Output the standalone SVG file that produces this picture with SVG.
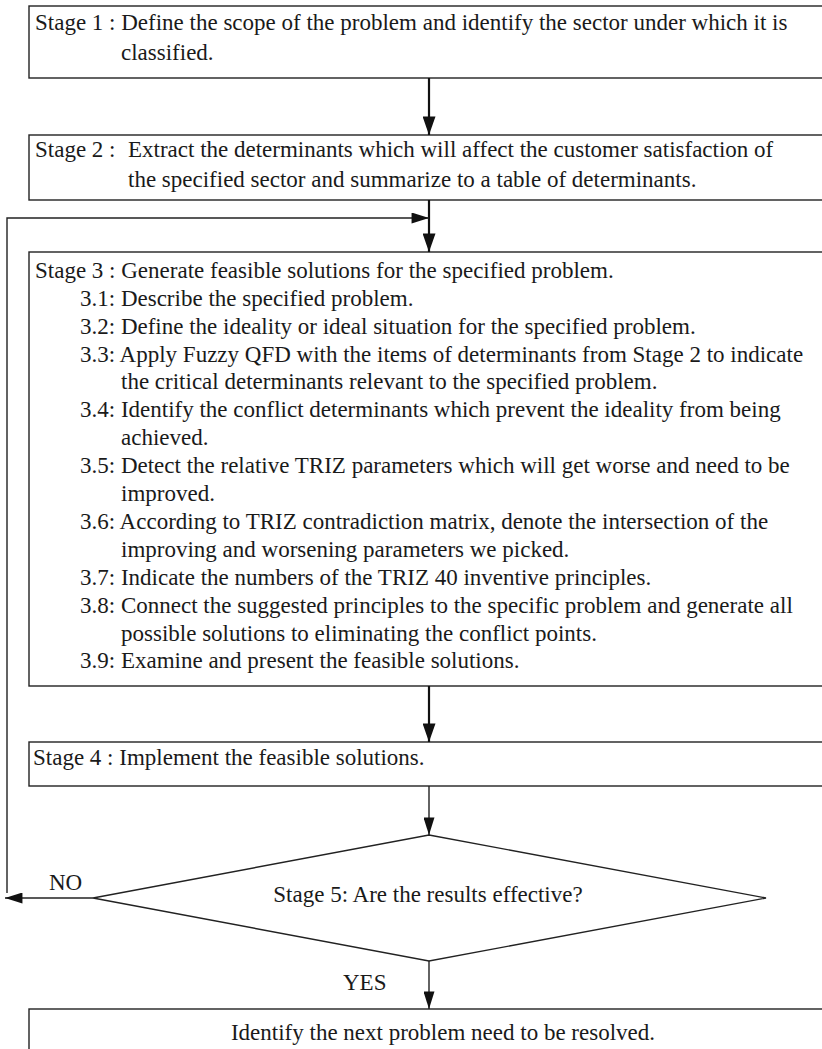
<svg xmlns="http://www.w3.org/2000/svg" width="822" height="1049" viewBox="0 0 822 1049">
<style>
.box{fill:#fff;stroke:#222;stroke-width:1.4}
.t{font-family:"Liberation Serif","Times New Roman",serif;font-size:23px;fill:#1a1a1a}
.c{text-anchor:middle}
.thick{stroke:#111;stroke-width:2.2;fill:none}
.thin{stroke:#222;stroke-width:1.4;fill:none}
</style>
<defs>
<marker id="ah" markerUnits="userSpaceOnUse" viewBox="0 0 20 14" refX="20" refY="7" markerWidth="20" markerHeight="13" orient="auto"><path d="M0,0 L20,7 L0,14 Z" fill="#111"/></marker>
<marker id="ahs" markerUnits="userSpaceOnUse" viewBox="0 0 19 12" refX="19" refY="6" markerWidth="19" markerHeight="11" orient="auto"><path d="M0,0 L19,6 L0,12 Z" fill="#111"/></marker>
</defs>
<rect width="822" height="1049" fill="#fff"/>
<g id="stage1">
<rect class="box" x="29" y="6" width="820" height="72"/>
<text class="t" x="35" y="30">Stage 1 : Define the scope of the problem and identify the sector under which it is</text>
<text class="t" x="121" y="60">classified.</text>
</g>
<g id="stage2">
<rect class="box" x="29" y="135" width="820" height="65"/>
<text class="t" x="35" y="157">Stage 2 :</text>
<text class="t" x="128" y="157">Extract the determinants which will affect the customer satisfaction of</text>
<text class="t" x="128" y="187">the specified sector and summarize to a table of determinants.</text>
</g>
<g id="stage3">
<rect class="box" x="29" y="252" width="820" height="434"/>
<text class="t" x="35" y="278">Stage 3 : Generate feasible solutions for the specified problem.</text>
<text class="t" x="80" y="306">3.1: Describe the specified problem.</text>
<text class="t" x="80" y="334">3.2: Define the ideality or ideal situation for the specified problem.</text>
<text class="t" x="80" y="362">3.3: Apply Fuzzy QFD with the items of determinants from Stage 2 to indicate</text>
<text class="t" x="121" y="389">the critical determinants relevant to the specified problem.</text>
<text class="t" x="80" y="417">3.4: Identify the conflict determinants which prevent the ideality from being</text>
<text class="t" x="121" y="445">achieved.</text>
<text class="t" x="80" y="473">3.5: Detect the relative TRIZ parameters which will get worse and need to be</text>
<text class="t" x="121" y="501">improved.</text>
<text class="t" x="80" y="529">3.6: According to TRIZ contradiction matrix, denote the intersection of the</text>
<text class="t" x="121" y="557">improving and worsening parameters we picked.</text>
<text class="t" x="80" y="585">3.7: Indicate the numbers of the TRIZ 40 inventive principles.</text>
<text class="t" x="80" y="613">3.8: Connect the suggested principles to the specific problem and generate all</text>
<text class="t" x="121" y="641">possible solutions to eliminating the conflict points.</text>
<text class="t" x="80" y="668">3.9: Examine and present the feasible solutions.</text>
</g>
<g id="stage4">
<rect class="box" x="29" y="742" width="820" height="44"/>
<text class="t" x="33" y="765">Stage 4 : Implement the feasible solutions.</text>
</g>
<g id="stage5">
<polygon class="thin" points="429,835 766,898 429,961 93,898" fill="#fff"/>
<text class="t c" x="428" y="902">Stage 5: Are the results effective?</text>
</g>
<g id="next">
<rect class="box" x="29" y="1009" width="820" height="60"/>
<text class="t c" x="443" y="1040">Identify the next problem need to be resolved.</text>
</g>
<g id="connectors">
<line class="thick" x1="429" y1="78" x2="429" y2="135" marker-end="url(#ah)"/>
<line class="thick" x1="429" y1="200" x2="429" y2="252" marker-end="url(#ah)"/>
<line class="thick" x1="429" y1="686" x2="429" y2="742" marker-end="url(#ah)"/>
<line class="thin" x1="429" y1="786" x2="429" y2="835" marker-end="url(#ahs)"/>
<line class="thin" x1="429" y1="961" x2="429" y2="1009" marker-end="url(#ahs)"/>
<line class="thin" x1="93" y1="898" x2="5" y2="898" marker-end="url(#ahs)"/>
<polyline class="thin" points="7,893 7,218 429,218" marker-end="url(#ahs)"/>
<text class="t" x="49" y="890">NO</text>
<text class="t" x="343" y="990">YES</text>
</g>
</svg>
